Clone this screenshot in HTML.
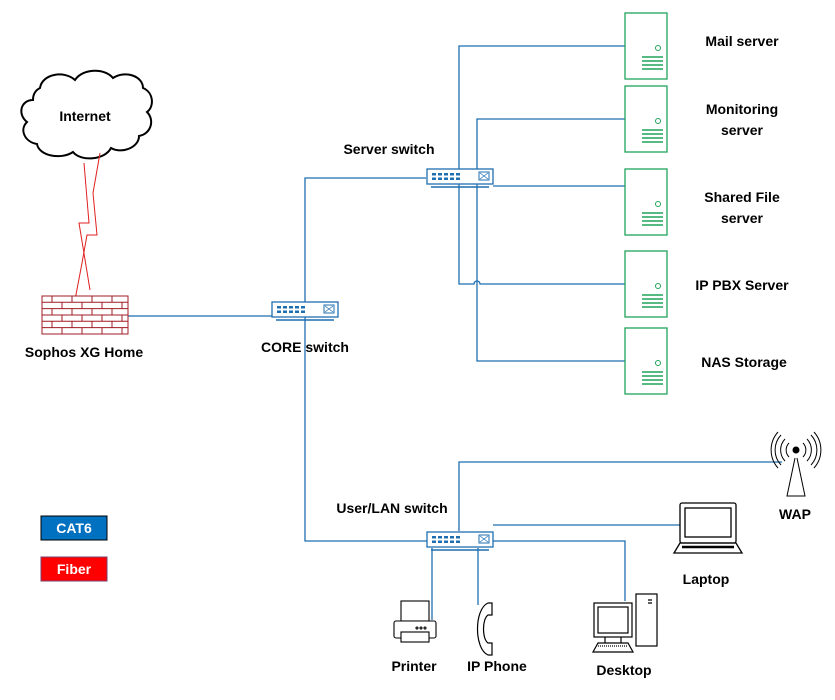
<!DOCTYPE html>
<html><head><meta charset="utf-8"><style>
body{margin:0;background:#fff}
svg text{font-family:"Liberation Sans",Arial,sans-serif;font-weight:bold;font-size:14px;fill:#000}
</style></head><body>
<svg width="835" height="695" xmlns="http://www.w3.org/2000/svg">
<defs>
<g id="srv"><rect x="0" y="0" width="42" height="66" fill="#fff" stroke="#21a35a" stroke-width="1.3"/><circle cx="33" cy="35" r="2.5" fill="none" stroke="#21a35a" stroke-width="1"/><path d="M17 44h21M17 48h21M17 52h21M17 56h21" stroke="#21a35a" stroke-width="1.6"/></g>
<g id="sw"><rect x="0" y="0" width="66" height="15" fill="#fff" stroke="#1f6fb0" stroke-width="1.3"/><path d="M4 18h58" stroke="#1f6fb0" stroke-width="1.5"/>
<g fill="#1f6fb0"><rect x="5" y="4" width="4" height="2.5"/><rect x="11" y="4" width="4" height="2.5"/><rect x="17" y="4" width="4" height="2.5"/><rect x="23" y="4" width="4" height="2.5"/><rect x="29" y="4" width="4" height="2.5"/><rect x="5" y="8.5" width="4" height="2.5"/><rect x="11" y="8.5" width="4" height="2.5"/><rect x="17" y="8.5" width="4" height="2.5"/><rect x="23" y="8.5" width="4" height="2.5"/><rect x="29" y="8.5" width="4" height="2.5"/></g>
<rect x="52" y="3" width="10" height="8" fill="none" stroke="#1f6fb0"/><path d="M53 4l8 6M61 4l-8 6" stroke="#1f6fb0" stroke-width=".7"/></g>
</defs>
<g fill="none" stroke="#1f6fb0" stroke-width="1.3">
<path d="M128 316H272"/>
<path d="M426 178H305V541H427"/>
<path d="M625 46H459V284H474a3 3 0 0 1 6 0H625"/>
<path d="M646 119H477V361H625"/>
<path d="M493 186H625"/>
<path d="M459 531V462H782"/>
<path d="M493 525H680"/>
<path d="M493 541H625V601"/>
<path d="M432 548V620"/>
<path d="M478 548V605"/>
</g>
<use href="#srv" x="625" y="13"/><use href="#srv" x="625" y="86"/><use href="#srv" x="625" y="169"/><use href="#srv" x="625" y="251"/><use href="#srv" x="625" y="328"/>
<use href="#sw" x="427" y="169"/><use href="#sw" x="272" y="302"/><use href="#sw" x="427" y="532"/>
<!-- cloud -->
<path d="M40 88c2-14 24-18 35-8c8-12 30-12 38-2c12-8 30-2 30 10c10 4 12 18 4 24c8 8 4 22-8 24c0 12-18 18-28 12c-6 12-30 14-38 4c-12 8-34 4-36-8c-12-2-18-14-10-22c-10-8-6-22 6-22c0-6 3-10 7-12z" fill="#fff" stroke="#000" stroke-width="2"/>
<text x="85" y="121" text-anchor="middle">Internet</text>
<g fill="none" stroke="#e02020" stroke-width="1"><path d="M84 163L89 223L79 223L90 290"/><path d="M100 153L93 193L97 235L87 235L82 263L75 300"/></g>
<!-- firewall -->
<g stroke="#a01c24" stroke-width="1" fill="#fff"><rect x="42" y="296" width="86" height="38"/>
<path d="M42 302.3h86M42 308.6h86M42 315h86M42 321.3h86M42 327.6h86" fill="none"/>
<path d="M52 296v6.3M72 296v6.3M92 296v6.3M112 296v6.3M62 302.3v6.3M82 302.3v6.3M102 302.3v6.3M122 302.3v6.3M52 308.6v6.4M72 308.6v6.4M92 308.6v6.4M112 308.6v6.4M62 315v6.3M82 315v6.3M102 315v6.3M122 315v6.3M52 321.3v6.3M72 321.3v6.3M92 321.3v6.3M112 321.3v6.3M62 327.6v6.4M82 327.6v6.4M102 327.6v6.4M122 327.6v6.4" fill="none"/></g>
<!-- WAP -->
<g fill="none" stroke="#000" stroke-width="1"><path d="M795 458L787 496H805L797 458"/><circle cx="796" cy="450" r="3" fill="#000"/>
<path d="M789 443a10 10 0 0 0 0 14M803 443a10 10 0 0 1 0 14M785 439a16 16 0 0 0 0 22M807 439a16 16 0 0 1 0 22M781 435a22 22 0 0 0 0 30M811 435a22 22 0 0 1 0 30M778 432a27 27 0 0 0 0 36M814 432a27 27 0 0 1 0 36"/></g>
<!-- laptop -->
<g fill="none" stroke="#000" stroke-width="1.3"><rect x="680" y="503" width="56" height="40" rx="2"/><rect x="685" y="508" width="46" height="29"/><path d="M680 543L674 553H742L736 543Z"/><path d="M682 547H734" stroke-width="2.5"/></g>
<!-- desktop -->
<g fill="none" stroke="#000" stroke-width="1.2"><rect x="636" y="594" width="21" height="52"/><path d="M648 600h4M648 603h4"/><rect x="594" y="603" width="38" height="34" fill="#fff"/><rect x="598" y="607" width="30" height="26"/><path d="M605 637v6M621 637v6M598 643h30l5 9h-40z" fill="#fff"/><path d="M598 646h30" stroke-dasharray="1 1"/></g>
<!-- printer -->
<g fill="none" stroke="#000" stroke-width="1.1"><rect x="401" y="601" width="28" height="20"/><rect x="394" y="621" width="42" height="17" rx="2" fill="#fff"/><rect x="401" y="632" width="28" height="10" fill="#fff"/><circle cx="417" cy="628" r="1"/><circle cx="421" cy="628" r="1"/><circle cx="425" cy="628" r="1"/></g>
<!-- phone -->
<path d="M488 603h4v12h-4c-6 4-6 24 0 28h4v12h-4c-14-6-14-46 0-52z" fill="none" stroke="#000" stroke-width="1.2"/>
<!-- legend -->
<rect x="41" y="516" width="66" height="24" fill="#0070c0" stroke="#000"/>
<text x="74" y="533" text-anchor="middle" style="fill:#fff">CAT6</text>
<rect x="41" y="557" width="66" height="24" fill="#ff0000" stroke="#7b3f6b"/>
<text x="74" y="574" text-anchor="middle" style="fill:#fff">Fiber</text>
<!-- labels -->
<text x="742" y="46" text-anchor="middle">Mail server</text>
<text x="742" y="114" text-anchor="middle">Monitoring</text>
<text x="742" y="135" text-anchor="middle">server</text>
<text x="742" y="202" text-anchor="middle">Shared File</text>
<text x="742" y="223" text-anchor="middle">server</text>
<text x="742" y="290" text-anchor="middle">IP PBX Server</text>
<text x="744" y="367" text-anchor="middle">NAS Storage</text>
<text x="389" y="154" text-anchor="middle">Server switch</text>
<text x="84" y="357" text-anchor="middle">Sophos XG Home</text>
<text x="305" y="352" text-anchor="middle">CORE switch</text>
<text x="392" y="513" text-anchor="middle">User/LAN switch</text>
<text x="795" y="519" text-anchor="middle">WAP</text>
<text x="706" y="584" text-anchor="middle">Laptop</text>
<text x="414" y="671" text-anchor="middle">Printer</text>
<text x="497" y="671" text-anchor="middle">IP Phone</text>
<text x="624" y="675" text-anchor="middle">Desktop</text>
</svg>
</body></html>
